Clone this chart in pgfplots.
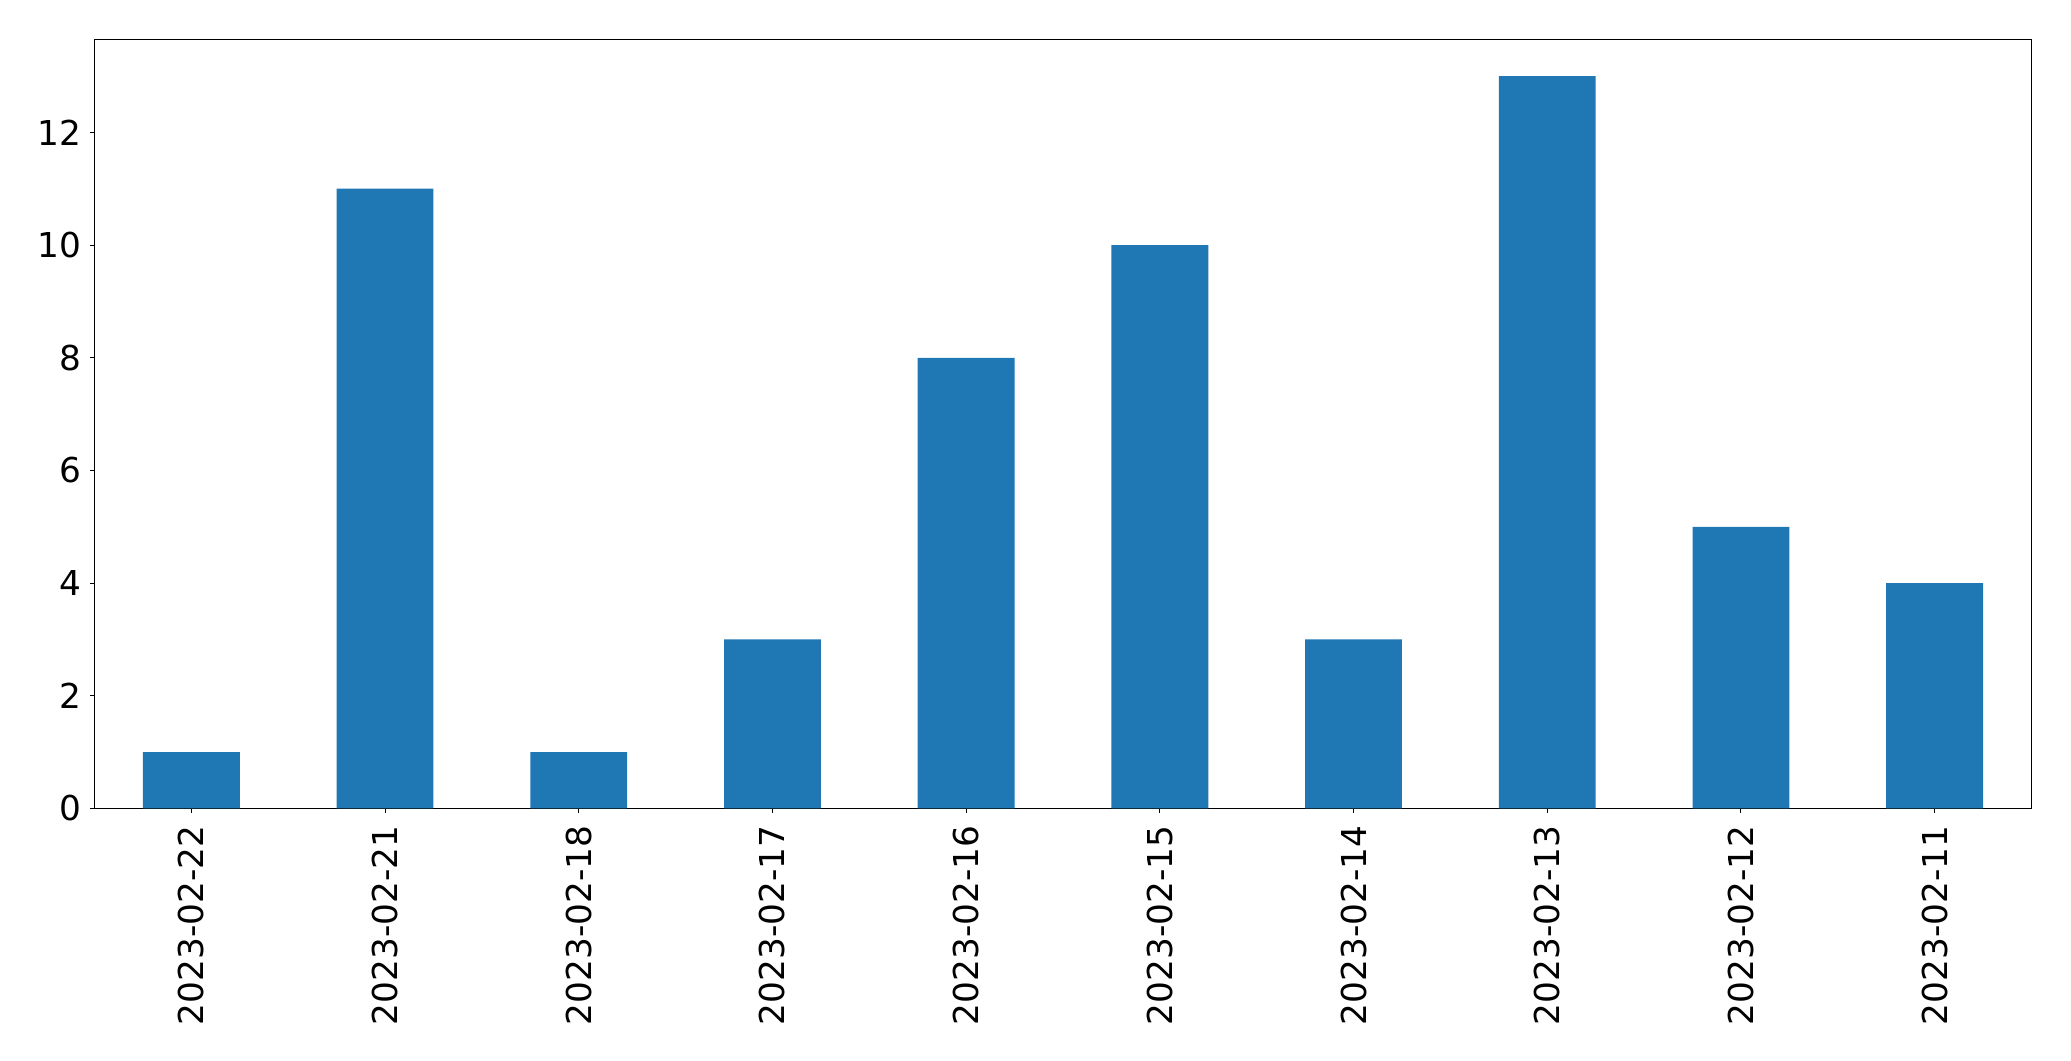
\documentclass[border=0pt]{standalone}
\usepackage{fontspec}
\setmainfont{DejaVu Sans}
\usepackage{pgfplots}
\pgfplotsset{compat=1.18}
\definecolor{tabblue}{HTML}{1F77B4}
\begin{document}
\begin{tikzpicture}
\begin{axis}[
  at={(0,0)}, anchor=south west,
  scale only axis,
  width=1394.6pt, height=553.7pt,
  xmin=-0.5, xmax=9.5, ymin=0, ymax=13.65,
  axis line style={line width=0.75pt},
  tick style={line width=0.75pt, black},
  tick align=outside, major tick length=3.2pt,
  xtick={0,...,9},
  xticklabels={2023-02-22,2023-02-21,2023-02-18,2023-02-17,2023-02-16,2023-02-15,2023-02-14,2023-02-13,2023-02-12,2023-02-11},
  ytick={0,2,4,6,8,10,12},
  xtick pos=bottom, ytick pos=left,
  /pgf/number format/assume math mode=true,
  ticklabel style={font=\fontsize{24.7}{29}\selectfont},
  xticklabel style={rotate=90, anchor=east, inner sep=0pt, xshift=-9pt},
  yticklabel style={inner sep=0pt, xshift=-6pt},
]
\addplot[ybar, bar width=0.5, fill=tabblue, draw=none] coordinates {
(0,1) (1,11) (2,1) (3,3) (4,8) (5,10) (6,3) (7,13) (8,5) (9,4)
};
\end{axis}
\pgfresetboundingbox
\path (-68.04pt,-181.8pt) rectangle (1423.1pt,582.1pt);
\end{tikzpicture}
\end{document}
